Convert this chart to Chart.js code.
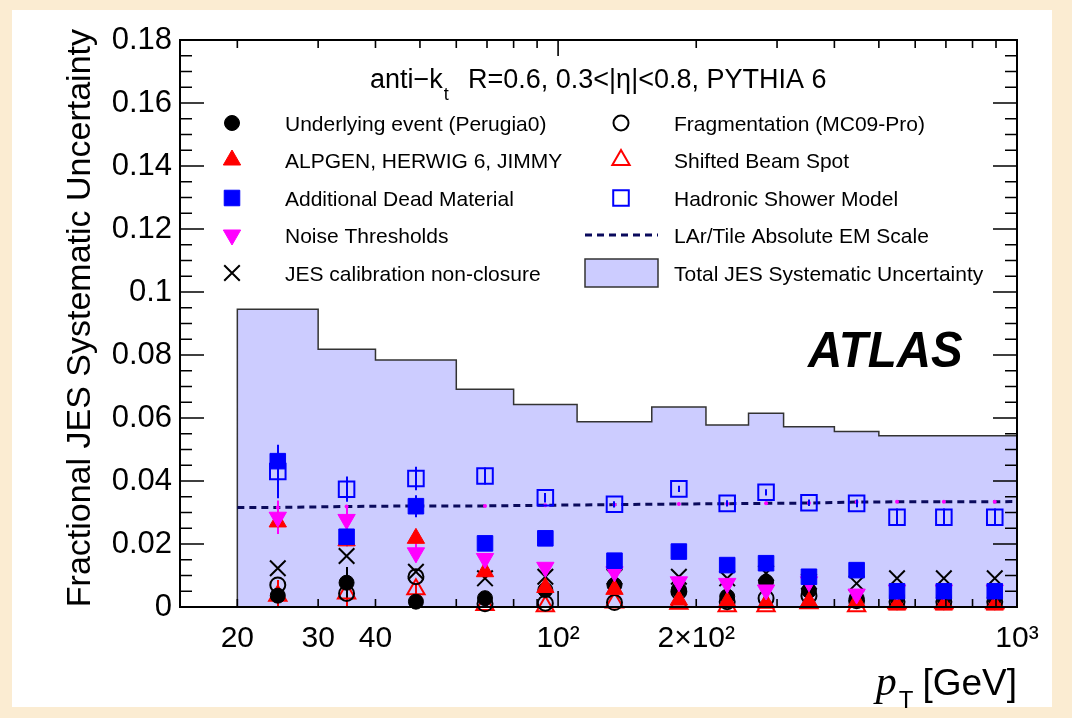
<!DOCTYPE html>
<html>
<head>
<meta charset="utf-8">
<title>JES systematic uncertainty</title>
<script src="https://cdn.jsdelivr.net/npm/chart.js@4.4.1/dist/chart.umd.min.js"></script>
<style>
  html, body { margin: 0; padding: 0; background: #fbecd2; }
  #wrap { width: 1072px; height: 718px; }
</style>
</head>
<body>
<div id="wrap"><canvas id="jes-chart" width="1072" height="718"></canvas></div>
<script>
// pT (GeV) at which each component is shown (log centre of the bin)
const ptCenters = [24.5, 34.6, 49, 69.3, 93.8, 132.7, 183.3, 233.6, 283.9, 352.1, 447.2, 547.7, 692.8, 894.4];

// total uncertainty histogram: bin edges and contents
const binEdges = [20, 30, 40, 60, 80, 110, 160, 210, 260, 310, 400, 500, 600, 800, 1000];
const totalJES = [0.0945, 0.0818, 0.0784, 0.0691, 0.0643, 0.0588, 0.0635, 0.0578, 0.0615, 0.0572, 0.0557, 0.0544, 0.0544, 0.0544];

// individual components
const underlyingEvent    = [0.0036, 0.0077, 0.0017, 0.0028, 0.0054, 0.0070, 0.0055, 0.0033, 0.0080, 0.0052, 0.0028, 0.0030, 0.0030, 0.0030];
const underlyingEventErr = [0.0010, 0.0050, 0.0010, 0.0010, 0, 0, 0, 0, 0, 0, 0, 0, 0, 0];
const fragmentation      = [0.0070, 0.0043, 0.0096, 0.0010, 0.0012, 0.0014, 0.0049, 0.0017, 0.0028, 0.0035, 0.0020, 0.0017, 0.0017, 0.0017];
const alpgenHerwig       = [0.0270, 0.0210, 0.0218, 0.0112, 0.0062, 0.0056, 0.0022, 0.0017, 0.0012, 0.0017, 0.0017, 0.0006, 0.0006, 0.0006];
const beamSpot           = [0.0036, 0.0043, 0.0056, 0.0006, 0.0002, 0.0014, 0.0010, 0.0002, 0.0002, 0.0012, 0.0002, 0.0012, 0.0012, 0.0012];
const beamSpotErr        = [0.0050, 0.0040, 0.0020, 0.0010, 0, 0, 0, 0, 0, 0, 0, 0, 0, 0];
const deadMaterial       = [0.0463, 0.0223, 0.0320, 0.0202, 0.0218, 0.0147, 0.0176, 0.0133, 0.0139, 0.0096, 0.0117, 0.0050, 0.0050, 0.0050];
const deadMaterialErr    = [0.0040, 0.0030, 0.0035, 0.0010, 0.0008, 0, 0, 0, 0, 0, 0, 0, 0, 0];
const hadronicShower     = [0.0430, 0.0374, 0.0408, 0.0416, 0.0347, 0.0326, 0.0375, 0.0329, 0.0364, 0.0331, 0.0329, 0.0285, 0.0285, 0.0285];
const hadronicShowerErr  = [0.0085, 0.0040, 0.0037, 0.0027, 0.0015, 0.0010, 0.0010, 0.0010, 0.0010, 0.0010, 0.0012, 0.0028, 0.0028, 0.0028];
const noiseThresholds    = [0.0285, 0.0278, 0.0172, 0.0154, 0.0126, 0.0112, 0.0080, 0.0075, 0.0054, 0.0080, 0.0041, 0.0054, 0.0054, 0.0054];
const noiseThresholdsErr = [0.0053, 0.0038, 0.0030, 0.0010, 0, 0, 0, 0, 0, 0, 0, 0, 0, 0];
const nonClosure         = [0.0123, 0.0162, 0.0112, 0.0091, 0.0096, 0.0096, 0.0096, 0.0091, 0.0107, 0.0080, 0.0075, 0.0091, 0.0091, 0.0091];

// LAr/Tile EM scale curve, from 20 GeV through the bin centres to 1 TeV
const larEmPt    = [20, 24.5, 34.6, 49, 69.3, 93.8, 132.7, 183.3, 233.6, 283.9, 352.1, 447.2, 547.7, 692.8, 894.4, 1000];
const larEmScale = [0.0316, 0.0316, 0.0319, 0.0321, 0.0321, 0.0323, 0.0325, 0.0327, 0.0328, 0.0329, 0.0330, 0.0333, 0.0334, 0.0334, 0.0334, 0.0335];

// axis ticks
const xTickValues = [20, 30, 40, 100, 200, 1000];
const xTickLabels = ['20', '30', '40', '10\u00b2', '2\u00d710\u00b2', '10\u00b3'];
const xMinorTicks = [20, 30, 40, 50, 60, 70, 80, 90, 200, 300, 400, 500, 600, 700, 800, 900];
const xMajorTicks = [100, 1000];
const yTickValues = [0, 0.02, 0.04, 0.06, 0.08, 0.1, 0.12, 0.14, 0.16, 0.18];
const yTickLabels = ['0', '0.02', '0.04', '0.06', '0.08', '0.1', '0.12', '0.14', '0.16', '0.18'];
const yMinorStep = 0.005;

const SANS = '"Liberation Sans", Arial, Helvetica, sans-serif';
const SERIF = '"Liberation Serif", "Times New Roman", serif';

function markers(label, values, style, color, open, radius, rotation) {
    return {
        label: label,
        data: values.map((v, i) => ({ x: ptCenters[i], y: v })),
        showLine: false,
        clip: false,
        pointStyle: style,
        pointRadius: radius,
        pointRotation: rotation || 0,
        pointBackgroundColor: open ? 'rgba(0,0,0,0)' : color,
        pointBorderColor: color,
        pointBorderWidth: open ? 2 : 1,
        backgroundColor: color,
        borderColor: color
    };
}

const datasets = [
    markers('Hadronic Shower Model', hadronicShower, 'rect', '#0000ff', true, 11),
    markers('Additional Dead Material', deadMaterial, 'rect', '#0000ff', false, 11),
    markers('Noise Thresholds', noiseThresholds, 'triangle', '#ff00ff', false, 10, 180),
    markers('ALPGEN, HERWIG 6, JIMMY', alpgenHerwig, 'triangle', '#ff0000', false, 10),
    markers('JES calibration non-closure', nonClosure, 'crossRot', '#000000', true, 11),
    markers('Fragmentation (MC09-Pro)', fragmentation, 'circle', '#000000', true, 7.5),
    markers('Underlying event (Perugia0)', underlyingEvent, 'circle', '#000000', false, 7.5),
    markers('Shifted Beam Spot', beamSpot, 'triangle', '#ff0000', true, 10),
    {
        label: 'LAr/Tile Absolute EM Scale',
        data: larEmPt.map((p, i) => ({ x: p, y: larEmScale[i] })),
        borderColor: '#0a0a5c',
        borderWidth: 3,
        borderDash: [7, 5],
        pointRadius: larEmPt.map((p, i) => (i === 0 || i === larEmPt.length - 1) ? 0 : 2),
        pointBackgroundColor: '#ff00ff',
        pointBorderWidth: 0,
        fill: false,
        order: 9
    },
    {
        label: 'Total JES Systematic Uncertainty',
        data: [{ x: binEdges[0], y: 0 }]
            .concat(totalJES.map((v, i) => ({ x: binEdges[i], y: v })))
            .concat([{ x: binEdges[binEdges.length - 1], y: totalJES[totalJES.length - 1] }]),
        stepped: 'before',
        fill: 'origin',
        backgroundColor: '#ccccff',
        borderColor: '#333333',
        borderWidth: 1.5,
        pointRadius: 0,
        order: 10
    }
];

const errorSets = [
    { values: hadronicShower, err: hadronicShowerErr, color: '#0000ff' },
    { values: deadMaterial, err: deadMaterialErr, color: '#0000ff' },
    { values: noiseThresholds, err: noiseThresholdsErr, color: '#ff00ff' },
    { values: beamSpot, err: beamSpotErr, color: '#ff0000' },
    { values: underlyingEvent, err: underlyingEventErr, color: '#000000' }
];

const legendLeft = ['Underlying event (Perugia0)', 'ALPGEN, HERWIG 6, JIMMY', 'Additional Dead Material', 'Noise Thresholds', 'JES calibration non-closure'];
const legendRight = ['Fragmentation (MC09-Pro)', 'Shifted Beam Spot', 'Hadronic Shower Model', 'LAr/Tile Absolute EM Scale', 'Total JES Systematic Uncertainty'];

function text(ctx, str, x, y, size, opts) {
    opts = opts || {};
    ctx.save();
    ctx.font = (opts.style || '') + ' ' + (opts.weight || '') + ' ' + size + 'px ' + (opts.family || SANS);
    ctx.fillStyle = '#000';
    ctx.textBaseline = 'alphabetic';
    ctx.textAlign = opts.align || 'left';
    ctx.translate(x, y);
    if (opts.rotate) ctx.rotate(opts.rotate);
    ctx.scale(opts.sx || 1, 1);
    ctx.fillText(str, 0, 0);
    const w = ctx.measureText(str).width * (opts.sx || 1);
    ctx.restore();
    return w;
}

const pagePlugin = {
    id: 'page',
    beforeDraw(chart) {
        const ctx = chart.ctx;
        ctx.save();
        ctx.fillStyle = '#fbecd2';
        ctx.fillRect(0, 0, chart.width, chart.height);
        ctx.fillStyle = '#ffffff';
        ctx.fillRect(12, 10, 1040, 697);
        ctx.restore();
    }
};

const errorBarPlugin = {
    id: 'errorBars',
    afterDatasetDraw(chart, args) {
        if (chart.data.datasets[args.index].label !== 'LAr/Tile Absolute EM Scale') return;
        const ctx = chart.ctx, xs = chart.scales.x, ys = chart.scales.y;
        ctx.save();
        ctx.lineWidth = 2;
        errorSets.forEach(set => {
            ctx.strokeStyle = set.color;
            set.values.forEach((v, i) => {
                if (!set.err[i]) return;
                const px = Math.round(xs.getPixelForValue(ptCenters[i]));
                ctx.beginPath();
                ctx.moveTo(px, ys.getPixelForValue(v + set.err[i]));
                ctx.lineTo(px, ys.getPixelForValue(Math.max(0, v - set.err[i])));
                ctx.stroke();
            });
        });
        ctx.restore();
    }
};

const framePlugin = {
    id: 'frame',
    afterDraw(chart) {
        const ctx = chart.ctx, a = chart.chartArea, xs = chart.scales.x, ys = chart.scales.y;
        ctx.save();
        ctx.strokeStyle = '#000';
        ctx.lineWidth = 2;
        ctx.strokeRect(a.left, a.top, a.right - a.left, a.bottom - a.top);
        ctx.lineWidth = 1.6;
        ctx.beginPath();
        const xTick = (v, len) => {
            const px = xs.getPixelForValue(v);
            ctx.moveTo(px, a.bottom); ctx.lineTo(px, a.bottom - len);
            ctx.moveTo(px, a.top); ctx.lineTo(px, a.top + len);
        };
        xMinorTicks.forEach(v => xTick(v, 8));
        xMajorTicks.forEach(v => xTick(v, 16));
        for (let k = 0; k * yMinorStep <= 0.18 + 1e-9; k++) {
            const v = k * yMinorStep;
            const len = (k % 4 === 0) ? 24 : 12;
            const py = ys.getPixelForValue(v);
            ctx.moveTo(a.left, py); ctx.lineTo(a.left + len, py);
            ctx.moveTo(a.right, py); ctx.lineTo(a.right - len, py);
        }
        ctx.stroke();
        ctx.restore();

        // axis titles
        const gevW = text(ctx, '[GeV]', a.right, 695, 37, { align: 'right' });
        const tW = text(ctx, 'T', a.right - gevW - 9, 708, 24, { align: 'right' });
        text(ctx, 'p', a.right - gevW - 9 - tW - 2, 695, 42, { align: 'right', style: 'italic', family: SERIF });
        text(ctx, 'Fractional JES Systematic Uncertainty', 90, 29, 34, { align: 'right', rotate: -Math.PI / 2 });

        // header and experiment label
        const kW = text(ctx, 'anti\u2212k', 370, 88, 27);
        text(ctx, 't', 370 + kW + 1, 100, 18);
        text(ctx, 'R=0.6, 0.3<|\u03b7|<0.8, PYTHIA 6', 468, 88, 27);
        text(ctx, 'ATLAS', 808, 367, 50, { weight: 'bold', style: 'italic', sx: 0.95 });

        // legend
        const rows = [123, 160, 198, 235, 273];
        const drawEntry = (label, mx, tx, y) => {
            const ds = chart.data.datasets.find(d => d.label === label);
            ctx.save();
            if (ds.pointStyle) {
                ctx.fillStyle = ds.pointBackgroundColor;
                ctx.strokeStyle = ds.pointBorderColor;
                ctx.lineWidth = ds.pointBorderWidth;
                Chart.helpers.drawPoint(ctx, {
                    pointStyle: ds.pointStyle, radius: ds.pointRadius,
                    rotation: ds.pointRotation, borderWidth: ds.pointBorderWidth
                }, mx, y);
            } else if (ds.fill === 'origin') {
                ctx.fillStyle = ds.backgroundColor;
                ctx.strokeStyle = ds.borderColor;
                ctx.lineWidth = 1.5;
                ctx.fillRect(585, y - 14, 73, 28);
                ctx.strokeRect(585, y - 14, 73, 28);
            } else {
                ctx.strokeStyle = ds.borderColor;
                ctx.lineWidth = ds.borderWidth;
                ctx.setLineDash(ds.borderDash);
                ctx.beginPath();
                ctx.moveTo(585, y); ctx.lineTo(658, y);
                ctx.stroke();
            }
            ctx.restore();
            text(ctx, label, tx, y + 8, 21);
        };
        legendLeft.forEach((l, i) => drawEntry(l, 232, 285, rows[i]));
        legendRight.forEach((l, i) => drawEntry(l, 621, 674, rows[i]));
    }
};

const chart = new Chart(document.getElementById('jes-chart').getContext('2d'), {
    type: 'line',
    data: { datasets: datasets },
    options: {
        responsive: false,
        animation: false,
        events: [],
        layout: { padding: { top: 40, right: 55, left: 0, bottom: 0 } },
        plugins: { legend: { display: false }, tooltip: { enabled: false } },
        scales: {
            x: {
                type: 'logarithmic',
                min: 15,
                max: 1000,
                afterBuildTicks: s => { s.ticks = xTickValues.map(v => ({ value: v })); },
                afterFit: s => { s.height = 111; },
                grid: { display: false, drawTicks: false },
                border: { display: false },
                ticks: {
                    autoSkip: false,
                    maxRotation: 0,
                    padding: 14,
                    color: '#000',
                    font: { family: SANS, size: 30 },
                    callback: v => xTickLabels[xTickValues.indexOf(v)]
                }
            },
            y: {
                min: 0,
                max: 0.18,
                afterBuildTicks: s => { s.ticks = yTickValues.map(v => ({ value: v })); },
                afterFit: s => { s.width = 180; },
                grid: { display: false, drawTicks: false },
                border: { display: false },
                ticks: {
                    padding: 8,
                    color: '#000',
                    font: { family: SANS, size: 31 },
                    callback: v => yTickLabels[yTickValues.indexOf(v)]
                }
            }
        }
    },
    plugins: [pagePlugin, errorBarPlugin, framePlugin]
});
</script>
</body>
</html>
